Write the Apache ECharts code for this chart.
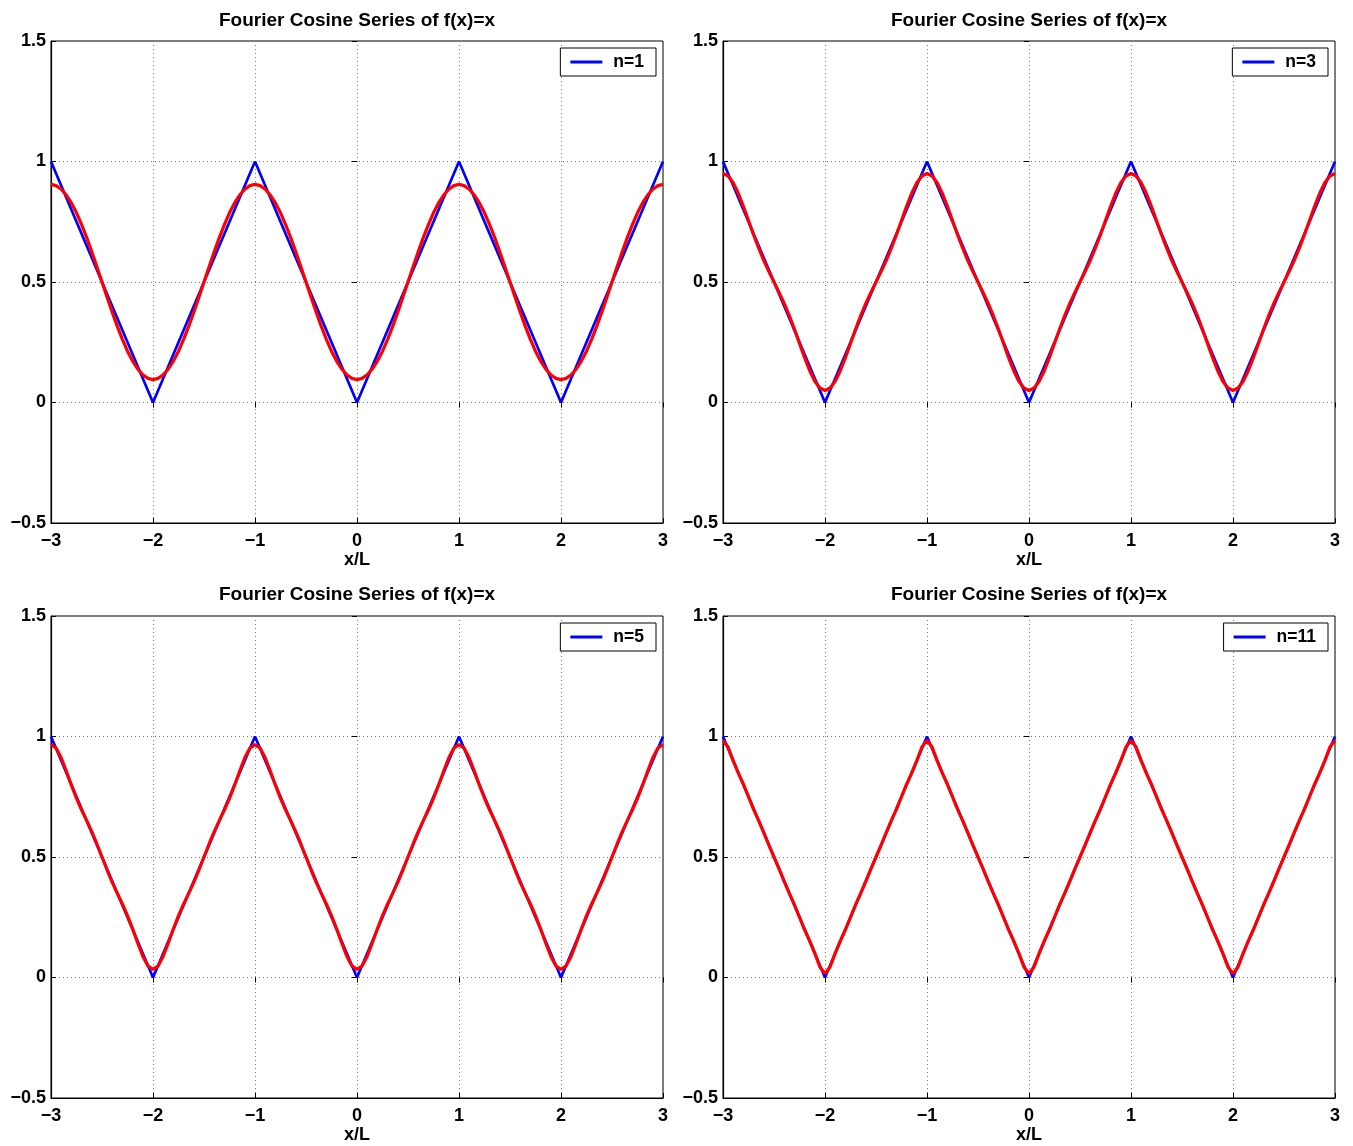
<!DOCTYPE html>
<html><head><meta charset="utf-8">
<script src="https://cdn.jsdelivr.net/npm/echarts@6/dist/echarts.min.js"></script>
<style>html,body{margin:0;padding:0;background:#fff}#c{width:1353px;height:1146px}</style>
</head><body><div id="c"></div>
<script>
const titleText = 'Fourier Cosine Series of f(x)=x';
const xName = 'x/L';
const legendNames = ['n=1', 'n=3', 'n=5', 'n=11'];
const xMin = -3, xMax = 3, xStep = 1;
const yMin = -0.5, yMax = 1.5, yStep = 0.5;

// f(x)=|x| periodic extension (blue)
const triX = [-3, -2, -1, 0, 1, 2, 3];
const triY = [1, 0, 1, 0, 1, 0, 1];

// sample positions for the partial sums (red)
const xs = [
  -3,-2.95,-2.9,-2.85,-2.8,-2.75,-2.7,-2.65,-2.6,-2.55,-2.5,-2.45,-2.4,-2.35,-2.3,-2.25,-2.2,-2.15,-2.1,-2.05,
  -2,-1.95,-1.9,-1.85,-1.8,-1.75,-1.7,-1.65,-1.6,-1.55,-1.5,-1.45,-1.4,-1.35,-1.3,-1.25,-1.2,-1.15,-1.1,-1.05,
  -1,-0.95,-0.9,-0.85,-0.8,-0.75,-0.7,-0.65,-0.6,-0.55,-0.5,-0.45,-0.4,-0.35,-0.3,-0.25,-0.2,-0.15,-0.1,-0.05,
  0,0.05,0.1,0.15,0.2,0.25,0.3,0.35,0.4,0.45,0.5,0.55,0.6,0.65,0.7,0.75,0.8,0.85,0.9,0.95,
  1,1.05,1.1,1.15,1.2,1.25,1.3,1.35,1.4,1.45,1.5,1.55,1.6,1.65,1.7,1.75,1.8,1.85,1.9,1.95,
  2,2.05,2.1,2.15,2.2,2.25,2.3,2.35,2.4,2.45,2.5,2.55,2.6,2.65,2.7,2.75,2.8,2.85,2.9,2.95,
  3
];

const s1 = [
  0.905,0.900,0.885,0.861,0.828,0.787,0.738,0.684,0.625,0.563,0.500,0.437,0.375,0.316,0.262,0.213,0.172,0.139,0.115,0.100,
  0.095,0.100,0.115,0.139,0.172,0.213,0.262,0.316,0.375,0.437,0.500,0.563,0.625,0.684,0.738,0.787,0.828,0.861,0.885,0.900,
  0.905,0.900,0.885,0.861,0.828,0.787,0.738,0.684,0.625,0.563,0.500,0.437,0.375,0.316,0.262,0.213,0.172,0.139,0.115,0.100,
  0.095,0.100,0.115,0.139,0.172,0.213,0.262,0.316,0.375,0.437,0.500,0.563,0.625,0.684,0.738,0.787,0.828,0.861,0.885,0.900,
  0.905,0.900,0.885,0.861,0.828,0.787,0.738,0.684,0.625,0.563,0.500,0.437,0.375,0.316,0.262,0.213,0.172,0.139,0.115,0.100,
  0.095,0.100,0.115,0.139,0.172,0.213,0.262,0.316,0.375,0.437,0.500,0.563,0.625,0.684,0.738,0.787,0.828,0.861,0.885,0.900,
  0.905
];
const s3 = [
  0.950,0.940,0.912,0.868,0.814,0.755,0.695,0.640,0.589,0.543,0.500,0.457,0.411,0.361,0.305,0.245,0.186,0.132,0.088,0.060,
  0.050,0.060,0.088,0.132,0.186,0.245,0.305,0.361,0.411,0.457,0.500,0.543,0.589,0.640,0.695,0.755,0.814,0.868,0.912,0.940,
  0.950,0.940,0.912,0.868,0.814,0.755,0.695,0.640,0.589,0.543,0.500,0.457,0.411,0.361,0.305,0.245,0.186,0.132,0.088,0.060,
  0.050,0.060,0.088,0.132,0.186,0.245,0.305,0.361,0.411,0.457,0.500,0.543,0.589,0.640,0.695,0.755,0.814,0.868,0.912,0.940,
  0.950,0.940,0.912,0.868,0.814,0.755,0.695,0.640,0.589,0.543,0.500,0.457,0.411,0.361,0.305,0.245,0.186,0.132,0.088,0.060,
  0.050,0.060,0.088,0.132,0.186,0.245,0.305,0.361,0.411,0.457,0.500,0.543,0.589,0.640,0.695,0.755,0.814,0.868,0.912,0.940,
  0.950
];
const s5 = [
  0.966,0.952,0.912,0.857,0.798,0.743,0.695,0.651,0.605,0.554,0.500,0.446,0.395,0.349,0.305,0.257,0.202,0.143,0.088,0.048,
  0.034,0.048,0.088,0.143,0.202,0.257,0.305,0.349,0.395,0.446,0.500,0.554,0.605,0.651,0.695,0.743,0.798,0.857,0.912,0.952,
  0.966,0.952,0.912,0.857,0.798,0.743,0.695,0.651,0.605,0.554,0.500,0.446,0.395,0.349,0.305,0.257,0.202,0.143,0.088,0.048,
  0.034,0.048,0.088,0.143,0.202,0.257,0.305,0.349,0.395,0.446,0.500,0.554,0.605,0.651,0.695,0.743,0.798,0.857,0.912,0.952,
  0.966,0.952,0.912,0.857,0.798,0.743,0.695,0.651,0.605,0.554,0.500,0.446,0.395,0.349,0.305,0.257,0.202,0.143,0.088,0.048,
  0.034,0.048,0.088,0.143,0.202,0.257,0.305,0.349,0.395,0.446,0.500,0.554,0.605,0.651,0.695,0.743,0.798,0.857,0.912,0.952,
  0.966
];
const s11 = [
  0.983,0.956,0.899,0.848,0.802,0.750,0.698,0.651,0.601,0.549,0.500,0.451,0.399,0.349,0.302,0.250,0.198,0.152,0.101,0.044,
  0.017,0.044,0.101,0.152,0.198,0.250,0.302,0.349,0.399,0.451,0.500,0.549,0.601,0.651,0.698,0.750,0.802,0.848,0.899,0.956,
  0.983,0.956,0.899,0.848,0.802,0.750,0.698,0.651,0.601,0.549,0.500,0.451,0.399,0.349,0.302,0.250,0.198,0.152,0.101,0.044,
  0.017,0.044,0.101,0.152,0.198,0.250,0.302,0.349,0.399,0.451,0.500,0.549,0.601,0.651,0.698,0.750,0.802,0.848,0.899,0.956,
  0.983,0.956,0.899,0.848,0.802,0.750,0.698,0.651,0.601,0.549,0.500,0.451,0.399,0.349,0.302,0.250,0.198,0.152,0.101,0.044,
  0.017,0.044,0.101,0.152,0.198,0.250,0.302,0.349,0.399,0.451,0.500,0.549,0.601,0.651,0.698,0.750,0.802,0.848,0.899,0.956,
  0.983
];
const partialSums = [s1, s3, s5, s11];

const FONT = '"Liberation Sans", Arial, Helvetica, sans-serif';
const panels = [
  { left: 51, top: 41, titleTop: 11, legendTop: 48 },
  { left: 723, top: 41, titleTop: 11, legendTop: 48 },
  { left: 51, top: 616, titleTop: 585, legendTop: 623 },
  { left: 723, top: 616, titleTop: 585, legendTop: 623 }
];
const W = 612, H = 482, CW = 1353;
const fmt = v => String(v).replace('-', '\u2212');

const option = { animation: false, backgroundColor: '#fff', title: [], legend: [], grid: [], xAxis: [], yAxis: [], series: [] };

panels.forEach((p, i) => {
  option.grid.push({ left: p.left, top: p.top, width: W, height: H, show: true, borderColor: '#000', borderWidth: 1, backgroundColor: 'transparent', containLabel: false, outerBoundsMode: 'none' });
  option.title.push({ text: titleText, left: p.left + W / 2, textAlign: 'center', top: p.titleTop, padding: 0,
    textStyle: { fontFamily: FONT, fontSize: 19, fontWeight: 'bold', color: '#000' } });
  option.legend.push({ data: [legendNames[i]], right: CW - (p.left + W - 7), top: p.legendTop, orient: 'horizontal',
    icon: 'rect', itemWidth: 32, itemHeight: 3, padding: [4, 12, 4, 10], backgroundColor: '#fff', borderColor: '#000', borderWidth: 1, borderRadius: 0,
    selectedMode: false, textStyle: { fontFamily: FONT, fontSize: 17.5, fontWeight: 'bold', color: '#000', lineHeight: 18, padding: [2, 0, 0, 6] } });
  const common = { type: 'value', gridIndex: i, min: xMin, max: xMax, interval: xStep };
  option.xAxis.push(Object.assign({}, common, { position: 'bottom', name: xName, nameLocation: 'middle', nameGap: 28,
    nameTextStyle: { fontFamily: FONT, fontSize: 18, fontWeight: 'bold', color: '#000' },
    axisLine: { show: true, onZero: false, lineStyle: { color: '#000', width: 1.2 } },
    axisTick: { show: true, inside: true, length: 5, lineStyle: { color: '#000' } },
    axisLabel: { show: true, margin: 9, formatter: fmt, fontFamily: FONT, fontSize: 18, fontWeight: 'bold', color: '#000', showMinLabel: true, showMaxLabel: true, hideOverlap: false },
    splitLine: { show: true, lineStyle: { color: '#777', width: 1, type: [1, 3] } } }));
  option.xAxis.push(Object.assign({}, common, { position: 'top',
    axisLine: { show: false }, axisTick: { show: true, inside: true, length: 5, lineStyle: { color: '#000' } },
    axisLabel: { show: false }, splitLine: { show: false } }));
  const ycommon = { type: 'value', gridIndex: i, min: yMin, max: yMax, interval: yStep };
  option.yAxis.push(Object.assign({}, ycommon, { position: 'left',
    axisLine: { show: true, onZero: false, lineStyle: { color: '#000', width: 1.2 } },
    axisTick: { show: true, inside: true, length: 5, lineStyle: { color: '#000' } },
    axisLabel: { show: true, margin: 5, padding: [4, 0, 0, 0], formatter: fmt, fontFamily: FONT, fontSize: 18, fontWeight: 'bold', color: '#000', showMinLabel: true, showMaxLabel: true, hideOverlap: false },
    splitLine: { show: true, lineStyle: { color: '#777', width: 1, type: [1, 3] } } }));
  option.yAxis.push(Object.assign({}, ycommon, { position: 'right',
    axisLine: { show: false }, axisTick: { show: true, inside: true, length: 5, lineStyle: { color: '#000' } },
    axisLabel: { show: false }, splitLine: { show: false } }));

  option.series.push({ name: legendNames[i], type: 'line', xAxisIndex: 2 * i, yAxisIndex: 2 * i,
    data: triX.map((x, k) => [x, triY[k]]), showSymbol: false, symbol: 'none', smooth: false,
    lineStyle: { color: '#0000ff', width: 2.7 }, itemStyle: { color: '#0000ff' }, z: 2, silent: true });
  option.series.push({ name: 'S' + i, type: 'line', xAxisIndex: 2 * i, yAxisIndex: 2 * i,
    data: xs.map((x, k) => [x, partialSums[i][k]]), showSymbol: false, symbol: 'none', smooth: false,
    lineStyle: { color: '#ff0000', width: 3.2 }, itemStyle: { color: '#ff0000' }, z: 3, silent: true });
});

const chart = echarts.init(document.getElementById('c'), null, { renderer: 'canvas' });
chart.setOption(option);
</script>
</body></html>
